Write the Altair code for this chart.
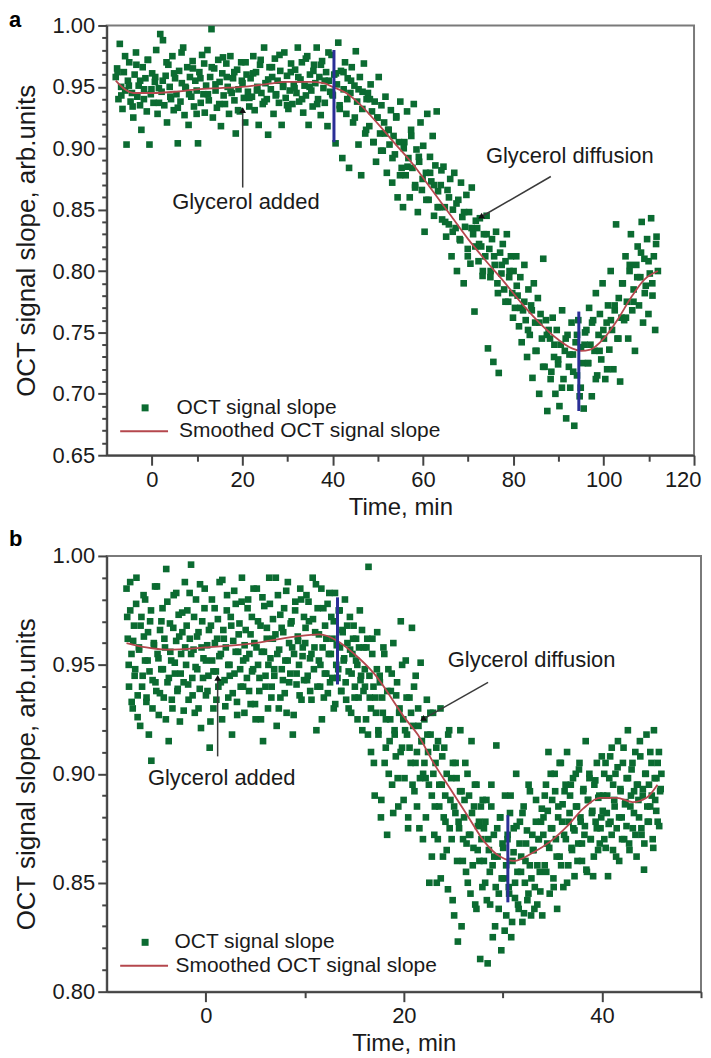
import altair as alt
import numpy as np
import pandas as pd

FONT = "Liberation Sans"
GREEN = "#0b6b31"
RED = "#b5474d"
BLUE = "#2b2f97"
ARROW = "#3a3a3a"
INK = "#1a1a1a"

# ---------------- Panel a : OCT signal slope, samples from -8 to 112 min ----------------
a_seg1 = [.958,.965,.940,.985,.950,.932,.962,.947,.903,.955,.970,.938,.945,.925,.960,.978,.942,.951,.935,.915,.966,.948,.957,.930,.972,.903,.944,.961,.937,.954,.980,.928,.949,.993]
a_seg2 = [.946,.988,.935,.959,.921,.968,.950,.940,.975,.931,.957,.944,.904,.963,.938,.953,.982,.927,.949,.966,.919,.958,.942,.971,.934,.955,.947,.904,.962,.937,.976,.944,.929]
a_seg3 = [.951,.980,.939,.958,.997,.925,.965,.947,.933,.972,.954,.918,.961,.943,.936,.969,.950,.928,.975,.945,.957,.939,.912,.964,.948,.930,.970,.953,.941,.921,.960,.946,.934]
a_seg4 = [.957,.942,.975,.931,.962,.950,.919,.968,.945,.936,.982,.953,.940,.911,.966,.948,.958,.928,.973,.944,.955,.937,.963,.919,.950,.978,.941,.959,.932,.947,.969,.936,.952]
a_seg5 = [.964,.945,.982,.938,.956,.970,.929,.951,.943,.975,.919,.960,.947,.934,.968,.953,.982,.940,.958,.927,.971,.949,.937,.962,.918,.955,.946]
a_seg6 = [.976,.943,.960,.904,.952,.986,.935,.963,.892,.948,.970,.928,.957,.884,.945,.966,.921,.951,.979,.938,.903,.958,.878,.946,.969,.912,.940]
a_seg7 = [.945,.918,.952,.930,.905,.938,.889,.925,.958,.912,.935,.898,.921,.942,.880,.915,.903,.931,.872,.910,.895,.926,.860,.905,.938,.884,.852]
a_seg8 = [.905,.878,.930,.892,.860,.915,.884,.936,.870,.899,.848,.889,.921,.866,.902,.832,.880,.928,.858,.893,.873,.910,.845,.886,.930,.865,.852]
a_seg9 = [.870,.842,.885,.852,.828,.866,.838,.875,.812,.850,.880,.835,.800,.858,.826,.872,.844,.790,.836,.862,.818,.848,.806,.868,.830,.767,.841]
a_seg10 = [.835,.808,.843,.820,.796,.830,.812,.845,.737,.818,.800,.826,.726,.805,.832,.790,.717,.815,.798,.822,.785,.808,.830,.775,.800,.812,.782]
a_seg11 = [.800,.770,.812,.780,.755,.795,.742,.768,.805,.760,.730,.785,.748,.772,.713,.790,.758,.735,.778,.700,.765,.745,.810,.722,.760,.686,.752]
a_seg12 = [.745,.718,.762,.730,.700,.752,.724,.690,.740,.768,.712,.735,.680,.748,.722,.705,.758,.732,.674,.742,.715,.760,.698,.738,.725,.688,.750]
a_seg13 = [.752,.725,.770,.740,.698,.760,.735,.782,.715,.748,.765,.728,.790,.745,.712,.758,.772,.736,.800,.752,.720,.768,.838,.745,.778,.710,.762]
a_seg14 = [.790,.760,.812,.775,.745,.800,.830,.768,.785,.735,.805,.820,.772,.795,.840,.758,.810,.788,.826,.765,.798,.843,.780,.812,.752,.828,.800]
a_slope = (a_seg1 + a_seg2 + a_seg3 + a_seg4 + a_seg5 + a_seg6 + a_seg7 +
           a_seg8 + a_seg9 + a_seg10 + a_seg11 + a_seg12 + a_seg13 + a_seg14)
# second, interleaved run of readings (every ~0.84 min)
a_extra = [.962,.943,.975,.951,.934,.968,.955,.940,.972,.948,.958,.937,
           .955,.970,.942,.961,.933,.978,.950,.944,.965,.928,.957,.969,
           .944,.966,.952,.936,.974,.958,.947,.962,.931,.955,.970,.941,
           .961,.947,.972,.938,.956,.966,.943,.976,.952,.935,.962,.949,
           .958,.940,.973,.950,.963,.936,.968,.955,.978,.944,.961,.932,
           .962,.940,.955,.925,.948,.932,.915,.940,.905,.925,.898,.912,
           .915,.892,.925,.878,.900,.885,.910,.868,.893,.875,.858,.880,
           .870,.852,.882,.840,.860,.832,.855,.825,.848,.812,.835,.820,
           .822,.800,.830,.795,.812,.782,.805,.775,.795,.762,.788,.770,
           .775,.752,.768,.735,.758,.722,.748,.712,.740,.728,.705,.745,
           .732,.718,.748,.705,.740,.725,.758,.712,.735,.752,.720,.760,
           .772,.745,.790,.762,.805,.775,.795,.815,.782,.808,.790,.822]
a_start, a_end = -8, 112
a_time = np.concatenate([np.linspace(a_start, a_end, len(a_slope)),
                         np.linspace(a_start + 0.4, a_end - 0.4, len(a_extra))])
a_values = a_slope + a_extra

a_smooth_t = [-8, -6, -4, 0, 5, 10, 15, 20, 25, 30, 35, 38, 40, 43, 46, 50, 54, 58, 62, 66, 70, 74, 78, 82, 86, 90, 93, 95, 97, 100, 103, 106, 109, 112]
a_smooth_v = [.955, .948, .945, .945, .946, .948, .949, .950, .952, .954, .954, .953, .950, .945, .936, .920, .903, .886, .866, .846, .826, .808, .791, .773, .757, .744, .737, .735, .736, .745, .760, .778, .793, .800]

a_blue_t = [40.3, 94.5]
a_blue_lo = [.905, .686]
a_blue_hi = [.980, .767]

a_text = ["Glycerol added", "Glycerol diffusion"]
a_text_t = [20.8, 92.5]
a_text_v = [.856, .894]
a_arrow_t0 = [20.1, 88.3]
a_arrow_v0 = [.868, .877]
a_arrow_t1 = [20.1, 72.8]
a_arrow_v1 = [.931, .844]
a_arrow_ang = [0, 240]

# ---------------- Panel b : OCT signal slope, samples from -8 to 46 min ----------------
b_seg1 = [.985,.962,.940,.975,.955,.930,.968,.948,.990,.936,.958,.922,.972,.945,.963,.980,.933,.952,.918,.970,.906,.943,.960,.986,.938,.955,.927,.966,.948,.976,.935,.958,.994,.942,.915,.969,.952,.930,.982,.946,.961,.938,.973,.924,.955,.965,.942,.988]
b_seg2 = [.950,.975,.934,.962,.996,.944,.957,.928,.980,.948,.965,.939,.921,.970,.953,.985,.936,.959,.945,.912,.968,.952,.930,.976,.947,.962,.940,.988,.955,.925,.966,.943,.958,.982,.935,.950,.972,.918,.961,.946,.978,.933,.956,.969,.940,.990,.952,.928]
b_seg3 = [.966,.944,.980,.955,.932,.972,.948,.960,.925,.985,.950,.938,.968,.956,.915,.977,.945,.962,.930,.990,.953,.940,.971,.948,.964,.922,.982,.957,.935,.967,.943,.976,.952,.928,.988,.960,.946,.970,.918,.955,.979,.941,.963,.950,.985,.934,.958,.972]
b_seg4 = [.960,.982,.945,.970,.938,.955,.990,.948,.965,.920,.976,.952,.940,.985,.958,.935,.968,.946,.978,.955,.942,.972,.962,.930,.983,.950,.944,.975,.958,.938,.966,.952,.980,.934,.960,.947,.972,.928,.955,.968,.940,.962,.950,.935,.975,.945,.920,.958]
b_seg5 = [.948,.925,.962,.995,.935,.910,.955,.940,.890,.928,.965,.918,.945,.880,.935,.958,.905,.925,.872,.948,.915,.938,.895,.960,.920,.908,.942,.885,.930,.970,.912,.925,.898,.952,.918,.880,.935,.905,.967,.922,.892,.945,.910,.930,.875,.951,.915,.900]
b_seg6 = [.925,.898,.934,.910,.850,.918,.890,.928,.872,.905,.850,.915,.885,.930,.895,.862,.912,.878,.900,.847,.920,.888,.870,.905,.835,.882,.898,.823,.875,.920,.892,.860,.880,.905,.868,.850,.890,.872,.915,.858,.885,.840,.895,.865,.878,.815,.870,.888]
b_seg7 = [.875,.850,.888,.813,.865,.840,.895,.858,.872,.830,.913,.862,.845,.880,.819,.868,.852,.890,.835,.870,.848,.882,.825,.860,.875,.843,.900,.855,.838,.878,.862,.832,.885,.850,.868,.842,.895,.858,.835,.872,.865,.848,.888,.840,.870,.855,.878,.835]
b_seg8 = [.880,.858,.895,.868,.910,.845,.875,.888,.852,.900,.870,.838,.885,.862,.905,.878,.848,.892,.870,.910,.858,.882,.895,.865,.875,.853,.900,.885,.868,.905,.878,.860,.892,.872,.915,.855,.888,.898,.870,.882,.853,.895,.878,.905,.865,.890,.875,.908]
b_seg9 = [.890,.870,.905,.882,.853,.898,.878,.912,.865,.888,.900,.875,.915,.860,.893,.880,.905,.870,.887,.898,.920,.868,.885,.902,.875,.892,.910,.862,.895,.880,.908,.872,.890,.856,.900,.918,.878,.895,.885,.905,.870,.920,.888,.898,.878,.910,.892,.900]
b_slope = b_seg1 + b_seg2 + b_seg3 + b_seg4 + b_seg5 + b_seg6 + b_seg7 + b_seg8 + b_seg9
# second, interleaved run of readings
b_ext1 = [.972,.950,.988,.933,.961,.945,.978,.926,.957,.968,.940,.982,.952,.935,.965,.947,.975,.930,.959,.942,.986,.953,.937,.970,.948,.962,.925,.979,.944,.956,.934,.967,.951,.983,.939,.963,.946,.974,.929,.958]
b_ext2 = [.968,.941,.983,.955,.936,.972,.949,.963,.930,.987,.958,.944,.976,.952,.938,.966,.924,.980,.947,.960,.934,.971,.954,.942,.989,.962,.931,.975,.950,.945,.968,.937,.984,.956,.927,.964,.948,.979,.940,.959]
b_ext3 = [.953,.976,.938,.964,.947,.985,.932,.958,.970,.944,.925,.981,.956,.940,.967,.950,.978,.935,.962,.945,.990,.955,.930,.973,.948,.965,.937,.984,.952,.942,.969,.958,.927,.975,.946,.961,.936,.980,.954,.943]
b_ext4 = [.967,.943,.979,.953,.934,.971,.958,.987,.940,.964,.950,.925,.976,.946,.962,.937,.983,.955,.944,.970,.932,.959,.948,.975,.938,.965,.953,.942,.968,.930,.957,.946,.962,.935,.952,.925,.958,.943,.966,.938]
b_ext5 = [.940,.958,.918,.945,.930,.962,.905,.935,.948,.920,.942,.888,.928,.955,.912,.938,.900,.925,.946,.882,.918,.936,.898,.928,.910,.950,.888,.920,.935,.875,.912,.928,.895,.940,.905,.885,.922,.898,.915,.870]
b_ext6 = [.905,.880,.918,.895,.928,.862,.900,.885,.912,.870,.895,.852,.908,.880,.890,.865,.918,.875,.898,.842,.885,.905,.860,.878,.892,.830,.870,.888,.855,.900,.872,.845,.882,.866,.895,.838,.876,.860,.885,.848]
b_ext7 = [.860,.878,.842,.870,.855,.885,.825,.862,.848,.875,.838,.880,.852,.866,.828,.858,.872,.845,.890,.832,.864,.850,.876,.840,.868,.855,.882,.836,.860,.874,.845,.892,.852,.865,.838,.878,.858,.870,.846,.884]
b_ext8 = [.872,.890,.855,.883,.866,.900,.875,.848,.892,.862,.880,.905,.858,.886,.872,.895,.850,.878,.890,.866,.898,.874,.885,.860,.902,.880,.868,.893,.876,.856,.888,.900,.870,.883,.862,.897,.875,.889,.868,.880]
b_ext9 = [.883,.900,.866,.890,.877,.908,.872,.895,.885,.862,.903,.880,.892,.870,.912,.886,.876,.898,.865,.890,.905,.882,.872,.895,.888,.915,.875,.893,.868,.900,.885,.878,.910,.890,.866,.898,.883,.905,.876,.893]
b_extra = b_ext1 + b_ext2 + b_ext3 + b_ext4 + b_ext5 + b_ext6 + b_ext7 + b_ext8 + b_ext9
b_start, b_end = -8, 46
b_time = np.concatenate([np.linspace(b_start, b_end, len(b_slope)),
                         np.linspace(b_start + 0.07, b_end - 0.07, len(b_extra))])
b_values = b_slope + b_extra

b_smooth_t = [-8, -6, -4, 0, 5, 9, 11.5, 13.3, 15, 17, 20.2, 21.4, 23, 24.7, 26.4, 28.1, 29.7, 31.1, 33.1, 34.8, 36.5, 38.1, 39.8, 41.5, 43.1, 44.5, 45.6]
b_smooth_v = [.960, .958, .957, .958, .960, .963, .964, .961, .955, .946, .925, .918, .905, .893, .881, .869, .862, .860, .864, .869, .876, .884, .889, .889, .887, .889, .895]

b_blue_t = [13.3, 30.5]
b_blue_lo = [.941, .841]
b_blue_hi = [.981, .881]

b_text = ["Glycerol added", "Glycerol diffusion"]
b_text_t = [1.6, 32.9]
b_text_v = [.898, .9524]
b_arrow_t0 = [1.2, 28.5]
b_arrow_v0 = [.908, .942]
b_arrow_t1 = [1.2, 21.9]
b_arrow_v1 = [.944, .925]
b_arrow_ang = [0, 240]

# axis tick values (labels every 20 min / 0.05, small ticks between)
a_xticks = [0, 10, 20, 30, 40, 50, 60, 70, 80, 90, 100, 110, 120]
b_xticks = [0, 10, 20, 30, 40, 50]
a_yticks = [round(0.65 + 0.01 * i, 2) for i in range(36)]
b_yticks = [round(0.80 + 0.01 * i, 2) for i in range(21)]

Y_MAJOR = "abs(datum.value*20 - round(datum.value*20)) < 0.001"
X_MAJOR = "datum.value % 20 === 0"


def make_axes(xticks, yticks):
    xa = alt.Axis(values=xticks, title="Time, min", format="d",
                  labelExpr=f"{X_MAJOR} ? datum.label : ''",
                  tickSize={"condition": {"test": X_MAJOR, "value": 10}, "value": 6},
                  grid=False, titlePadding=5, labelPadding=4,
                  labelFlush=True, labelFlushOffset=7, titleFontSize=24)
    ya = alt.Axis(values=yticks, title="OCT signal slope, arb.units", format=".2f",
                  labelExpr=f"{Y_MAJOR} ? datum.label : ''",
                  tickSize={"condition": {"test": Y_MAJOR, "value": 9}, "value": 5},
                  grid=False, titlePadding=13, labelPadding=3, titleFontSize=26)
    return xa, ya


def panel(letter, letter_y, time, slope, sm_t, sm_v, bl_t, bl_lo, bl_hi,
          txt, txt_t, txt_v, ar_t0, ar_v0, ar_t1, ar_v1, ar_ang,
          xdom, ydom, xticks, yticks, w, h, leg_pts, leg_line):
    xa, ya = make_axes(xticks, yticks)
    xs = alt.Scale(domain=xdom, nice=False, zero=False)
    ys = alt.Scale(domain=ydom, nice=False, zero=False)

    pts = pd.DataFrame({"t": time, "v": slope, "s": "OCT signal slope"})
    sm = pd.DataFrame({"t": sm_t, "v": sm_v, "s": "Smoothed OCT signal slope"})
    bl = pd.DataFrame({"t": bl_t, "v": bl_lo, "v2": bl_hi})
    tx = pd.DataFrame({"t": txt_t, "v": txt_v, "label": txt})
    ar = pd.DataFrame({"t": ar_t0, "v": ar_v0, "t2": ar_t1, "v2": ar_v1})
    hd = pd.DataFrame({"t": ar_t1, "v": ar_v1, "ang": ar_ang})
    lt = pd.DataFrame({"label": [letter]})

    X = alt.X("t:Q", scale=xs, axis=xa)
    Y = alt.Y("v:Q", scale=ys, axis=ya)

    points = alt.Chart(pts).mark_square(size=44, opacity=1).encode(
        x=X, y=Y,
        fill=alt.Fill("s:N", scale=alt.Scale(domain=["OCT signal slope"], range=[GREEN]),
                      legend=alt.Legend(title=None, orient="none", legendX=leg_pts[0], legendY=leg_pts[1],
                                        symbolType="square", symbolSize=49, symbolStrokeWidth=0,
                                        labelFont=FONT, labelFontSize=21, labelColor=INK, labelLimit=0,
                                        labelOffset=leg_pts[2], padding=0)))
    smooth = alt.Chart(sm).mark_line(strokeWidth=1.8, interpolate="monotone").encode(
        x=X, y=Y,
        stroke=alt.Stroke("s:N", scale=alt.Scale(domain=["Smoothed OCT signal slope"], range=[RED]),
                          legend=alt.Legend(title=None, orient="none", legendX=leg_line[0], legendY=leg_line[1],
                                            symbolType="stroke", symbolSize=2304, symbolStrokeWidth=2,
                                            labelFont=FONT, labelFontSize=21, labelColor=INK, labelLimit=0,
                                            labelOffset=leg_line[2], padding=0)))
    blue = alt.Chart(bl).mark_rule(color=BLUE, strokeWidth=3).encode(x=X, y=Y, y2="v2:Q")
    arrows = alt.Chart(ar).mark_rule(color=ARROW, strokeWidth=1.5).encode(x=X, y=Y, x2="t2:Q", y2="v2:Q")
    heads = alt.Chart(hd).mark_point(shape="triangle-up", filled=True, size=45, color="#111", opacity=1).encode(
        x=X, y=Y, angle=alt.Angle("ang:Q", scale=None))
    texts = alt.Chart(tx).mark_text(font=FONT, fontSize=22, color=INK, align="center", baseline="middle").encode(
        x=X, y=Y, text="label:N")
    letter_mark = alt.Chart(lt).mark_text(font=FONT, fontSize=22, fontWeight="bold", color="#000",
                                          align="left", baseline="alphabetic").encode(
        x=alt.value(-98), y=alt.value(letter_y), text="label:N")

    return alt.layer(points, smooth, blue, arrows, heads, texts, letter_mark).properties(width=w, height=h)


pa = panel("a", 2, a_time, a_values, a_smooth_t, a_smooth_v, a_blue_t, a_blue_lo, a_blue_hi,
           a_text, a_text_t, a_text_v, a_arrow_t0, a_arrow_v0, a_arrow_t1, a_arrow_v1, a_arrow_ang,
           [-10, 120], [0.65, 1.0], a_xticks, a_yticks, 589, 431,
           (28, 373, 21), (12.5, 382, 10))
pb = panel("b", -10, b_time, b_values, b_smooth_t, b_smooth_v, b_blue_t, b_blue_lo, b_blue_hi,
           b_text, b_text_t, b_text_v, b_arrow_t0, b_arrow_v0, b_arrow_t1, b_arrow_v1, b_arrow_ang,
           [-10, 50], [0.80, 1.0], b_xticks, b_yticks, 596, 437,
           (28, 377, 19), (12.5, 386, 6.5))

chart = alt.vconcat(pa, pb, spacing=7).resolve_scale(
    fill="independent", stroke="independent", x="independent", y="independent"
).resolve_legend(fill="independent", stroke="independent").properties(
    padding={"left": 0, "top": -1, "right": 0, "bottom": 0}
).configure_axis(
    labelFont=FONT, titleFont=FONT, labelFontSize=22,
    titleFontWeight="normal", labelColor=INK, titleColor=INK,
    domainColor="#444", domainWidth=2, tickColor="#444", tickWidth=2
).configure_view(stroke="#7a7a7a", strokeWidth=2)

chart.save("out.html", embed_options={"renderer": "svg", "actions": False})
